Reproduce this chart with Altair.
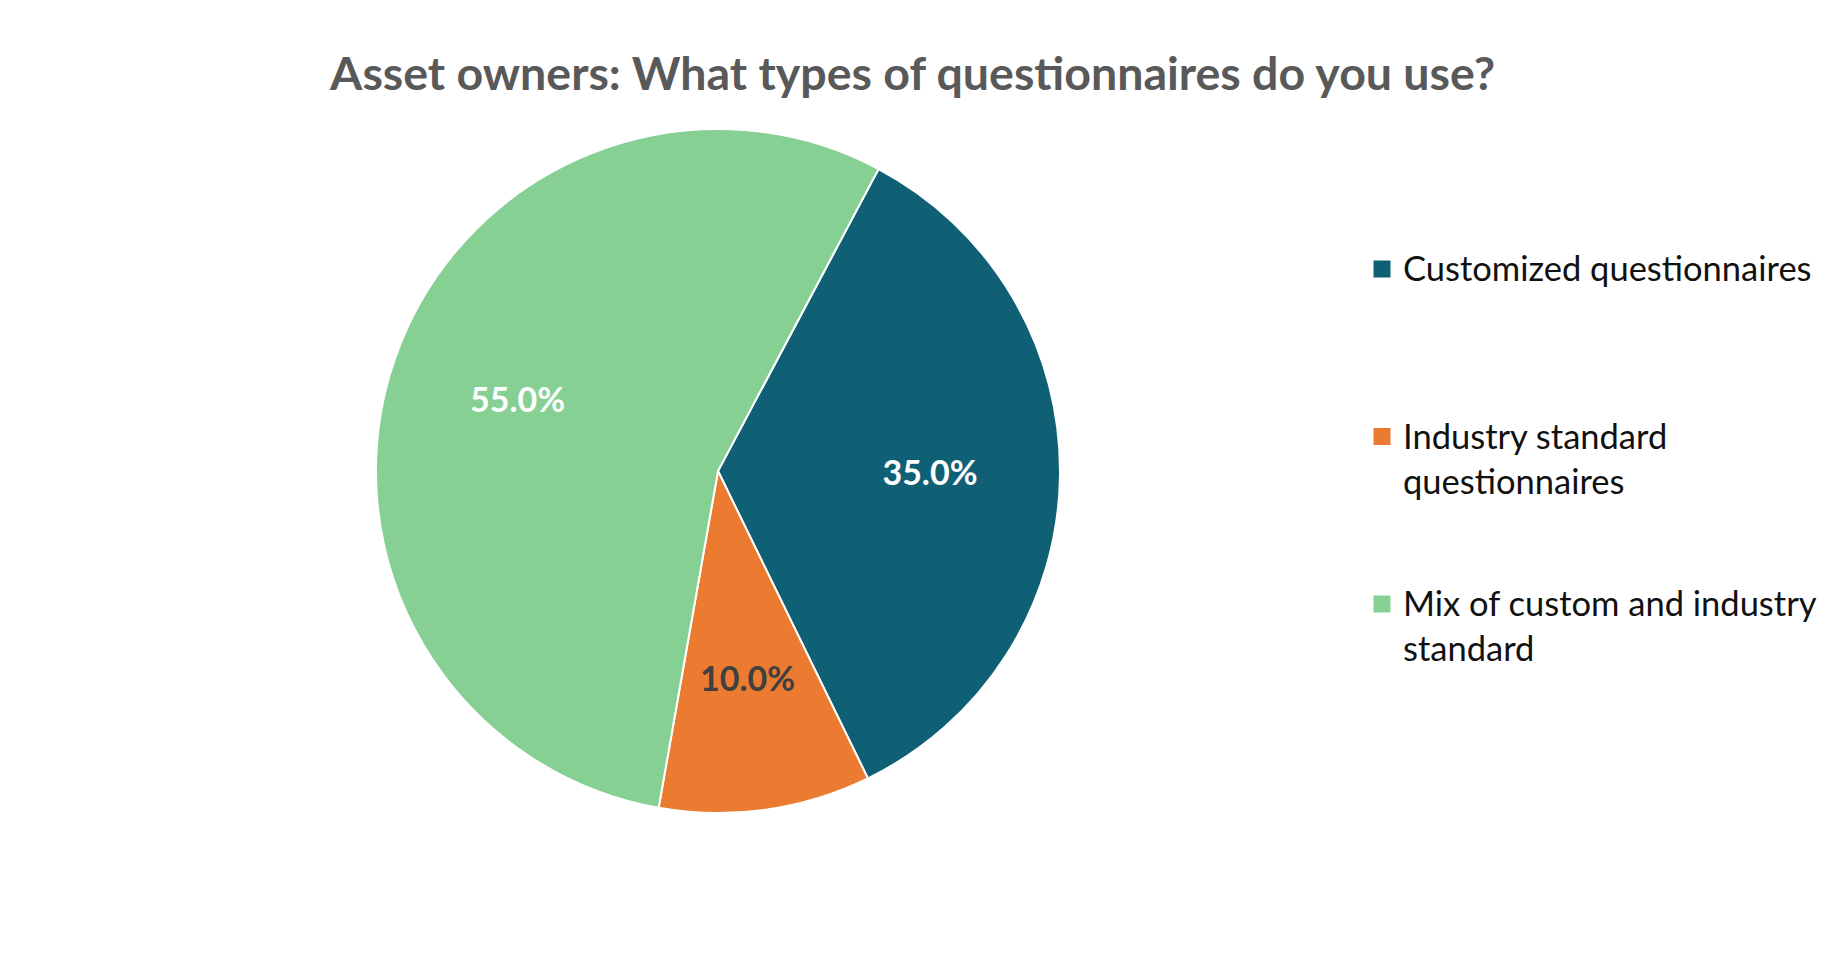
import math
import textwrap

import altair as alt
import pandas as pd

# ---- data ----
categories = [
    "Customized questionnaires",
    "Industry standard questionnaires",
    "Mix of custom and industry standard",
]
shares = [35.0, 10.0, 55.0]
colors = ["#0F6075", "#EA7B31", "#86D094"]
title_text = "Asset owners: What types of questionnaires do you use?"

df = pd.DataFrame(
    {
        "category": categories,
        "share": shares,
        "rank": list(range(len(categories))),
        "legend": [textwrap.fill(c, 26) for c in categories],
        "label": [f"{v:.1f}%" for v in shares],
    }
)

FONT = "Lato"
start = math.radians(28)
color_scale = alt.Scale(domain=categories, range=colors)

base = alt.Chart(df).encode(
    theta=alt.Theta(
        "share:Q", stack=True, scale=alt.Scale(range=[start, start + 2 * math.pi])
    ),
    order=alt.Order("rank:Q"),
)

arcs = base.mark_arc(outerRadius=342, stroke="white", strokeWidth=2).encode(
    color=alt.Color("category:N", scale=color_scale, legend=None)
)

labels = base.mark_text(
    radius=212, font=FONT, fontSize=34, fontWeight="bold"
).encode(
    text="label:N",
    color=alt.condition(
        alt.datum.category == categories[1], alt.value("#404040"), alt.value("white")
    ),
)

pie = (arcs + labels).properties(width=1420, height=720)

leg_base = alt.Chart(df).encode(
    y=alt.Y(
        "category:N",
        sort=categories,
        axis=None,
        scale=alt.Scale(type="point", range=[158, 493], padding=0),
    )
)
squares = leg_base.mark_square(size=289, opacity=1).encode(
    x=alt.value(-46),
    color=alt.Color("category:N", scale=color_scale, legend=None),
)
texts = leg_base.mark_text(
    align="left",
    baseline="alphabetic",
    dy=12,
    font=FONT,
    fontSize=34.5,
    lineBreak="\n",
    lineHeight=45,
    color="#111111",
).encode(x=alt.value(-25), text="legend:N")

legend = (squares + texts).properties(width=380, height=720)

chart = (
    alt.hconcat(pie, legend, spacing=0, bounds="flush")
    .properties(
        title=alt.TitleParams(
            title_text,
            fontSize=46.5,
            font=FONT,
            fontWeight="bold",
            color="#595959",
            anchor="middle",
            offset=12,
        ),
        padding={"top": 44, "left": 0, "right": 0, "bottom": 0},
        background="white",
    )
    .configure_view(stroke=None)
)

chart.save("out.html", embed_options={"renderer": "svg", "actions": False})
